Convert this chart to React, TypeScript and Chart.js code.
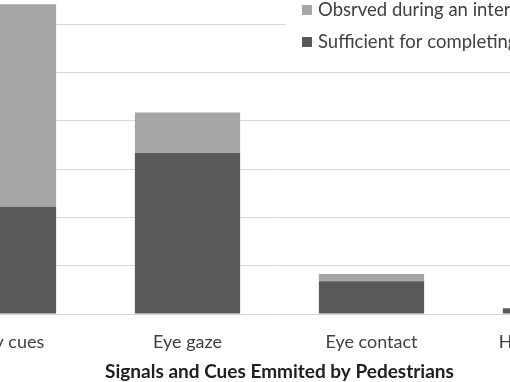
import React, { useEffect, useRef } from "react";
import { Chart, registerables } from "chart.js";

Chart.register(...registerables);

const categories = ["Body cues", "Eye gaze", "Eye contact", "Hand gestures"];
const sufficientValues = [22.2, 33.3, 6.8, 1.2];
const observedValues = [41.9, 8.4, 1.5, 0];
const seriesLabels = [
  "Sufficient for completing the interaction",
  "Obsrved during an interaction",
];
const yMax = 70;
const yStep = 10;
const xTitle = "Signals and Cues Emmited by Pedestrians";

const DARK = "#595959";
const LIGHT = "#a6a6a6";
const FONT = "Lato, 'Open Sans', sans-serif";

const overlayLegend = {
  id: "overlayLegend",
  afterDraw(chart: any) {
    const ctx = chart.ctx as CanvasRenderingContext2D;
    const ds = chart.data.datasets;
    ctx.save();
    ctx.fillStyle = "#ffffff";
    ctx.fillRect(386, 0, 400, 95);
    const items = [ds[1], ds[0]];
    items.forEach((d: any, i: number) => {
      const cy = 50 + i * 32;
      ctx.fillStyle = d.backgroundColor;
      ctx.fillRect(402, cy - 5, 10, 10);
      ctx.fillStyle = "#404040";
      ctx.font = `18.5px ${FONT}`;
      ctx.textBaseline = "middle";
      ctx.textAlign = "left";
      ctx.fillText(d.label, 418, cy);
    });
    ctx.restore();
  },
};

export default function App() {
  const ref = useRef<HTMLCanvasElement | null>(null);
  useEffect(() => {
    if (!ref.current) return;
    const chart = new Chart(ref.current, {
      type: "bar",
      data: {
        labels: categories,
        datasets: [
          {
            label: seriesLabels[0],
            data: sufficientValues,
            backgroundColor: DARK,
            borderWidth: 0,
            categoryPercentage: 1,
            barPercentage: 0.572,
          },
          {
            label: seriesLabels[1],
            data: observedValues,
            backgroundColor: LIGHT,
            borderWidth: 0,
            categoryPercentage: 1,
            barPercentage: 0.572,
          },
        ],
      },
      options: {
        responsive: false,
        animation: false,
        layout: { padding: { left: 11.5, right: 12.5, top: 15.7, bottom: 0 } },
        plugins: {
          legend: { display: false },
          tooltip: { enabled: false },
        },
        scales: {
          x: {
            stacked: true,
            grid: { display: false, drawTicks: false },
            border: { display: false },
            ticks: {
              color: "#404040",
              font: { family: FONT, size: 18 },
              padding: 17.2,
              maxRotation: 0,
              autoSkip: false,
            },
            title: {
              display: true,
              text: xTitle,
              color: "#202020",
              font: { family: FONT, size: 19, weight: "bold" },
              padding: { top: -9.7, bottom: -1.1 },
            },
          },
          y: {
            stacked: true,
            min: 0,
            max: yMax,
            ticks: { display: false, stepSize: yStep },
            grid: { color: "#d9d9d9", lineWidth: 1, drawTicks: false },
            border: { display: false },
          },
        },
      },
      plugins: [overlayLegend],
    });
    return () => chart.destroy();
  }, []);
  return (
    <div style={{ position: "fixed", left: -100, top: -40, width: 760, height: 422 }}>
      <canvas ref={ref} width={760} height={422} style={{ display: "block" }} />
    </div>
  );
}
